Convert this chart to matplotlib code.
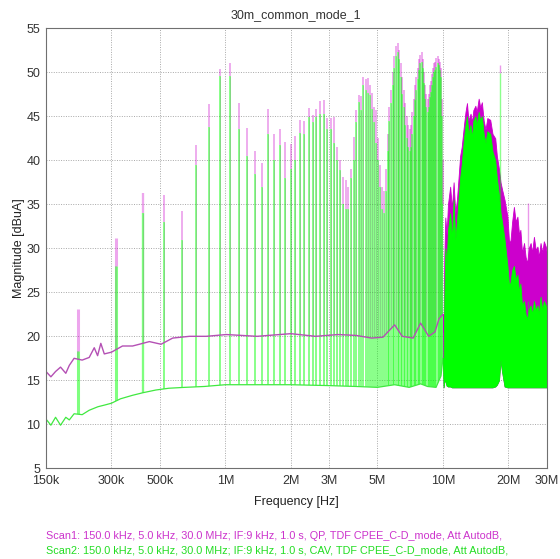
import numpy as np
import matplotlib.pyplot as plt
from matplotlib.patches import Polygon
from matplotlib.ticker import NullLocator

plt.rcParams['font.family'] = ['Liberation Sans', 'DejaVu Sans']
plt.rcParams['font.size'] = 9

# ---------------- data ----------------
# switching harmonics, fundamental ~105 kHz, harmonic numbers 2..95 (up to 10 MHz)
f_sw_khz = 105.0
harm_n = np.arange(2, 96)

qp_peak = [23.1, 31.2, 36.3, 36.1, 34.2, 41.7, 46.4, 50.4, 51.1,
           46.5, 43.7, 41.1, 39.7, 45.8, 43.0, 43.5, 42.1, 41.9, 42.8,
           44.6, 44.5, 45.9, 45.2, 45.8, 46.7, 46.8, 44.8, 44.8, 44.9,
           41.5, 40.0, 38.1, 37.8, 37.0, 39.0, 42.7, 45.7, 47.4, 47.3,
           49.5, 49.2, 49.3, 48.6, 47.7, 46.0, 45.7, 42.5, 39.5, 37.0,
           36.5, 39.0, 43.0, 46.0, 48.0, 50.0, 51.8, 53.0, 53.3, 52.5,
           51.0, 49.5, 48.0, 46.5, 45.0, 44.0, 43.5, 44.0, 45.5, 47.0,
           48.5, 49.5, 50.5, 51.5, 52.0, 52.3, 51.5, 50.0, 48.5, 47.5,
           47.0, 47.5, 48.5, 49.0, 49.8, 50.5, 51.0, 51.2, 51.6, 51.8,
           51.5, 51.2, 50.5, 47.0, 40.0]

cav_peak = [18.3, 28.0, 34.0, 33.0, 31.0, 39.5, 43.8, 49.6, 49.6,
            43.6, 40.5, 38.5, 37.0, 43.0, 40.0, 41.7, 38.0, 39.0, 40.0,
            43.1, 43.0, 44.9, 44.3, 44.9, 45.3, 45.3, 43.5, 43.5, 42.0,
            40.0, 38.9, 35.0, 34.5, 34.5, 38.0, 40.0, 44.4, 46.6, 45.7,
            48.6, 48.0, 47.7, 47.4, 45.8, 44.4, 42.0, 40.0, 37.0, 34.5,
            34.0, 36.5, 41.0, 44.5, 46.5, 48.5, 50.5, 51.8, 52.3, 51.5,
            49.5, 47.5, 46.0, 44.0, 42.5, 41.5, 41.0, 41.5, 43.0, 45.0,
            46.8, 48.0, 49.2, 50.3, 51.0, 51.2, 50.5, 48.8, 47.0, 46.0,
            45.5, 46.0, 47.2, 47.8, 48.6, 49.5, 50.0, 50.3, 50.6, 51.0,
            50.8, 50.3, 49.5, 45.0, 35.0]

# noise floor between harmonics
qp_floor_khz = [150, 158, 166, 175, 185, 192, 202, 220, 237, 250, 259, 268, 278,
                300, 337, 375, 403, 448, 507, 573, 684, 817, 1011, 1400, 2000,
                2600, 3300, 4000, 4700, 5300, 6000, 6500, 7300, 7900, 8600,
                9200, 9600, 10000]
qp_floor = [16.0, 15.4, 16.0, 16.5, 15.8, 16.7, 17.5, 17.3, 17.6, 18.7, 17.8, 19.2, 18.0,
            18.2, 18.9, 18.9, 19.1, 19.4, 19.1, 19.8, 20.0, 20.0, 20.2, 20.0, 20.3,
            20.0, 20.2, 20.1, 19.8, 19.9, 21.3, 20.0, 19.8, 21.5, 20.0,
            20.5, 22.0, 22.5]

cav_floor_khz = [150, 158, 166, 175, 185, 192, 202, 220, 237, 260, 280, 300, 330,
                 375, 420, 480, 550, 650, 800, 1000, 2000, 3000, 4000, 5000,
                 6000, 7000, 7900, 8500, 9300, 9800, 10000]
cav_floor = [10.6, 9.9, 10.8, 9.9, 10.8, 10.5, 11.2, 11.1, 11.6, 12.0, 12.2, 12.4, 12.9,
             13.3, 13.6, 13.9, 14.1, 14.2, 14.3, 14.5, 14.5, 14.4, 14.3, 14.2,
             14.5, 14.2, 14.6, 14.3, 14.2, 15.5, 17.5]

# 10 MHz .. 30 MHz: harmonics merge into a filled band
hf_mhz = [10.0, 10.07, 10.15, 10.26, 10.4, 10.55, 10.8, 11.0, 11.2, 11.4, 11.6, 11.8,
          12.0, 12.2, 12.5, 12.7, 12.9, 13.1, 13.4, 13.6, 13.8, 14.1, 14.3, 14.6,
          14.85, 15.1, 15.4, 15.7, 16.0, 16.5, 16.9, 17.4, 17.7, 18.1, 18.4, 18.7,
          19.2, 19.8, 20.1, 20.4, 20.8, 21.2, 21.6, 22.0, 22.4, 22.7, 23.1, 23.6,
          24.0, 24.4, 24.8, 25.3, 25.7, 26.2, 26.7, 27.2, 27.6, 28.1, 28.6, 29.1,
          29.7, 30.0]
qp_hi = [22.5, 20.5, 29.0, 33.5, 31.5, 35.0, 37.0, 34.5, 37.5, 34.0, 35.5, 38.0,
         40.5, 41.5, 44.0, 45.5, 46.5, 44.5, 45.3, 44.3, 45.7, 46.2, 45.5, 47.0,
         46.0, 46.6, 44.5, 43.5, 44.8, 44.6, 43.0, 42.5, 40.5, 39.0, 37.5, 36.7,
         35.5, 33.6, 31.0, 30.6, 33.0, 34.7, 33.0, 33.6, 31.5, 32.1, 29.5, 30.6,
         29.0, 28.3, 30.0, 30.6, 29.5, 31.3, 29.8, 30.2, 29.0, 30.6, 29.5, 30.8,
         30.2, 29.5]
cav_hi = [17.5, 17.5, 24.0, 30.0, 28.0, 32.0, 34.0, 31.0, 35.5, 31.0, 33.0, 35.5,
          38.0, 39.5, 42.5, 44.0, 45.0, 43.0, 44.0, 42.5, 44.5, 45.0, 44.0, 45.5,
          44.5, 45.0, 43.0, 42.0, 43.3, 43.0, 41.0, 40.0, 38.0, 36.0, 34.0, 33.0,
          31.0, 28.0, 26.0, 26.0, 27.5, 28.0, 26.5, 27.0, 25.0, 26.0, 23.5, 24.0,
          22.5, 22.0, 23.0, 23.5, 22.5, 24.0, 23.0, 23.5, 22.5, 24.5, 23.0, 24.0,
          23.5, 23.0]
cav_lo = [17.5, 14.2, 14.8, 15.0, 14.4, 14.3, 14.3, 14.2, 14.2, 14.2, 14.2, 14.2,
          14.2, 14.2, 14.2, 14.2, 14.2, 14.2, 14.2, 14.2, 14.2, 14.2, 14.2, 14.2,
          14.2, 14.2, 14.2, 14.2, 14.2, 14.2, 14.2, 14.3, 14.5, 15.0, 17.3, 16.0,
          14.3, 14.2, 14.2, 14.2, 14.2, 14.2, 14.2, 14.2, 14.2, 14.2, 14.2, 14.2,
          14.2, 14.2, 14.2, 14.2, 14.2, 14.2, 14.2, 14.2, 14.2, 14.2, 14.2, 14.2,
          14.2, 14.2]

# isolated lines in the upper band
spur_mhz = [18.375, 24.57]
spur_qp = [50.8, 35.1]
spur_cav = [49.9, 24.0]

xtick_hz = [150e3, 300e3, 500e3, 1e6, 2e6, 3e6, 5e6, 10e6, 20e6, 30e6]
xtick_lab = ['150k', '300k', '500k', '1M', '2M', '3M', '5M', '10M', '20M', '30M']

MAG = '#CC00CC'
GRN = '#00FF00'

fig = plt.figure(figsize=(5.6, 5.59), dpi=100)
ax = fig.add_axes([0.0821, 0.1622, 0.8942, 0.7872])
ax.set_xscale('log')
ax.set_xlim(150e3, 30e6)
ax.set_ylim(5, 55)

harm_hz = harm_n * f_sw_khz * 1e3
# lines look wider at low frequency (fixed IF bandwidth on a log axis)
spike_lw = np.clip(700e3 / harm_hz, 1.3, 2.2)


def above_floor(fk, fl):
    xs = np.concatenate([np.asarray(fk, float) * 1e3, [fk[-1] * 1e3, fk[0] * 1e3]])
    ys = np.concatenate([fl, [60, 60]])
    return Polygon(np.column_stack([xs, ys]), closed=True,
                   transform=ax.transData, fc='none', ec='none')


# harmonic lines: faint QP body underneath, CAV body, QP tips above it
qp_body = ax.vlines(harm_hz, 5, cav_peak, colors=MAG, linewidths=spike_lw * 0.5,
                    alpha=0.3, zorder=2.0)
qp_body.set_clip_path(above_floor(qp_floor_khz, qp_floor))
cav_lines = ax.vlines(harm_hz, 5, cav_peak, colors=GRN, linewidths=spike_lw,
                      alpha=0.5, zorder=2.1)
cav_lines.set_clip_path(above_floor(cav_floor_khz, cav_floor))
ax.vlines(harm_hz, cav_peak, qp_peak, colors=MAG, linewidths=spike_lw,
          alpha=0.35, zorder=2.0)

# noise floors
ax.plot(np.array(qp_floor_khz) * 1e3, qp_floor, color='#B450B4', lw=1.0, zorder=2.2)
ax.plot(np.array(cav_floor_khz) * 1e3, cav_floor, color='#40E840', lw=0.9, zorder=2.3)

# dense band above 10 MHz
hf_hz = np.array(hf_mhz) * 1e6
ax.fill_between(hf_hz, cav_lo, qp_hi, color=MAG, lw=0.6, zorder=2.4)
ax.fill_between(hf_hz, cav_lo, cav_hi, color=GRN, lw=0.6, zorder=2.5)
ax.vlines(np.array(spur_mhz) * 1e6, spur_cav, spur_qp, colors=MAG, linewidth=1.0,
          alpha=0.4, zorder=2.6)
ax.vlines(np.array(spur_mhz) * 1e6, 20, spur_cav, colors=GRN, linewidth=1.0,
          alpha=0.45, zorder=2.7)

# axes styling
ax.set_xticks(xtick_hz)
ax.set_xticklabels(xtick_lab)
ax.xaxis.set_minor_locator(NullLocator())
ax.set_yticks(np.arange(5, 56, 5))
ax.tick_params(length=0, labelsize=9, labelcolor='#333333')
ax.tick_params(axis='x', pad=5)
ax.tick_params(axis='y', pad=4)
ax.grid(True, color='#a8a8a8', linestyle=(0, (1, 1.5)), linewidth=0.7)
ax.set_axisbelow(True)
for s in ax.spines.values():
    s.set_color('#707070')
    s.set_linewidth(0.8)

ax.set_title('30m_common_mode_1', fontsize=9, color='#333333', pad=7)
ax.set_xlabel('Frequency [Hz]', fontsize=9, color='#222222', labelpad=6)
ax.set_ylabel('Magnitude [dBuA]', fontsize=9, color='#222222', labelpad=1)

fig.text(0.082, 0.041, 'Scan1: 150.0 kHz, 5.0 kHz, 30.0 MHz; IF:9 kHz, 1.0 s, QP, '
         'TDF CPEE_C-D_mode, Att AutodB,', color='#CC33CC', fontsize=7.8, va='center')
fig.text(0.082, 0.016, 'Scan2: 150.0 kHz, 5.0 kHz, 30.0 MHz; IF:9 kHz, 1.0 s, CAV, '
         'TDF CPEE_C-D_mode, Att AutodB,', color='#22DD22', fontsize=7.8, va='center')

fig.savefig('out.png', dpi=100)
